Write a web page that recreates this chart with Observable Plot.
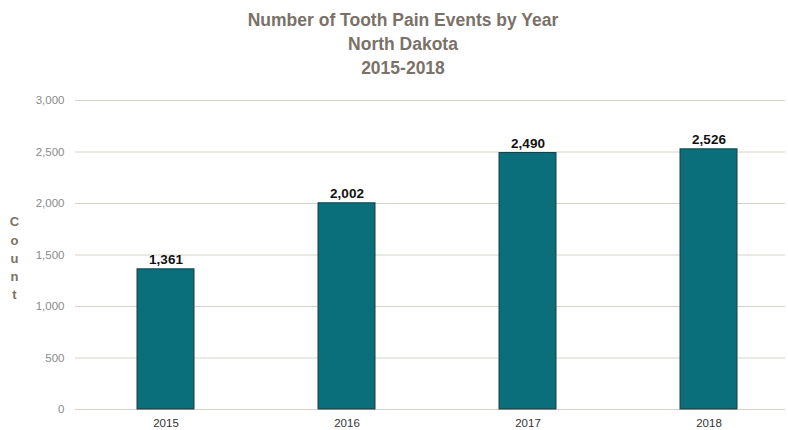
<!DOCTYPE html>
<html>
<head>
<meta charset="utf-8">
<script src="https://cdn.jsdelivr.net/npm/d3@7"></script>
<script src="https://cdn.jsdelivr.net/npm/@observablehq/plot@0.6"></script>
<style>
  body { margin: 0; background: #fff; font-family: "Liberation Sans", Arial, sans-serif; }
  #title { height: 84px; box-sizing: border-box; padding-top: 8px; text-align: center; color: #7a7168; font-weight: bold; font-size: 17.5px; line-height: 24px; width: 788px; padding-left: 18px; }
</style>
</head>
<body>
<div id="title">Number of Tooth Pain Events by Year<br>North Dakota<br>2015-2018</div>
<div id="chart"></div>
<script>
const years = ["2015", "2016", "2017", "2018"];
const counts = [1361, 2002, 2490, 2526];
const yTicks = [0, 500, 1000, 1500, 2000, 2500, 3000];
const yLabel = "C\no\nu\nn\nt";

const data = years.map((y, i) => ({year: y, count: counts[i]}));
const fmt = d3.format(",");

const chart = Plot.plot({
  width: 788,
  height: 346,
  marginTop: 16,
  marginBottom: 21,
  marginLeft: 75,
  marginRight: 3,
  style: {fontFamily: "'Liberation Sans', Arial, sans-serif", background: "#fff"},
  x: {domain: years, range: [75, 800], paddingInner: 0.685, paddingOuter: 0.3425, label: null},
  y: {domain: [0, 3000], label: null},
  marks: [
    Plot.ruleY(yTicks, {stroke: "#d6d2c8", strokeWidth: 1}),
    Plot.axisY({ticks: yTicks, tickFormat: fmt, tickSize: 0, tickPadding: 11, fontSize: 11.5, fill: "#8a8a8a", label: null}),
    Plot.axisX({tickSize: 0, tickPadding: 9, fontSize: 11.5, fill: "#333", label: null}),
    Plot.barY(data, {x: "year", y: "count", fill: "#0a6f7b", stroke: "#1f3d40", strokeWidth: 1}),
    Plot.text(data, {x: "year", y: "count", text: d => fmt(d.count), lineAnchor: "bottom", dy: -5, fontSize: 13.5, fontWeight: "bold", fill: "#111"}),
    Plot.text([yLabel], {frameAnchor: "left", dx: -61, dy: 2, fontSize: 13, fontWeight: "bold", fill: "#7a7168", lineHeight: 1.4, textAnchor: "middle"})
  ]
});
document.getElementById("chart").appendChild(chart);
</script>
</body>
</html>
